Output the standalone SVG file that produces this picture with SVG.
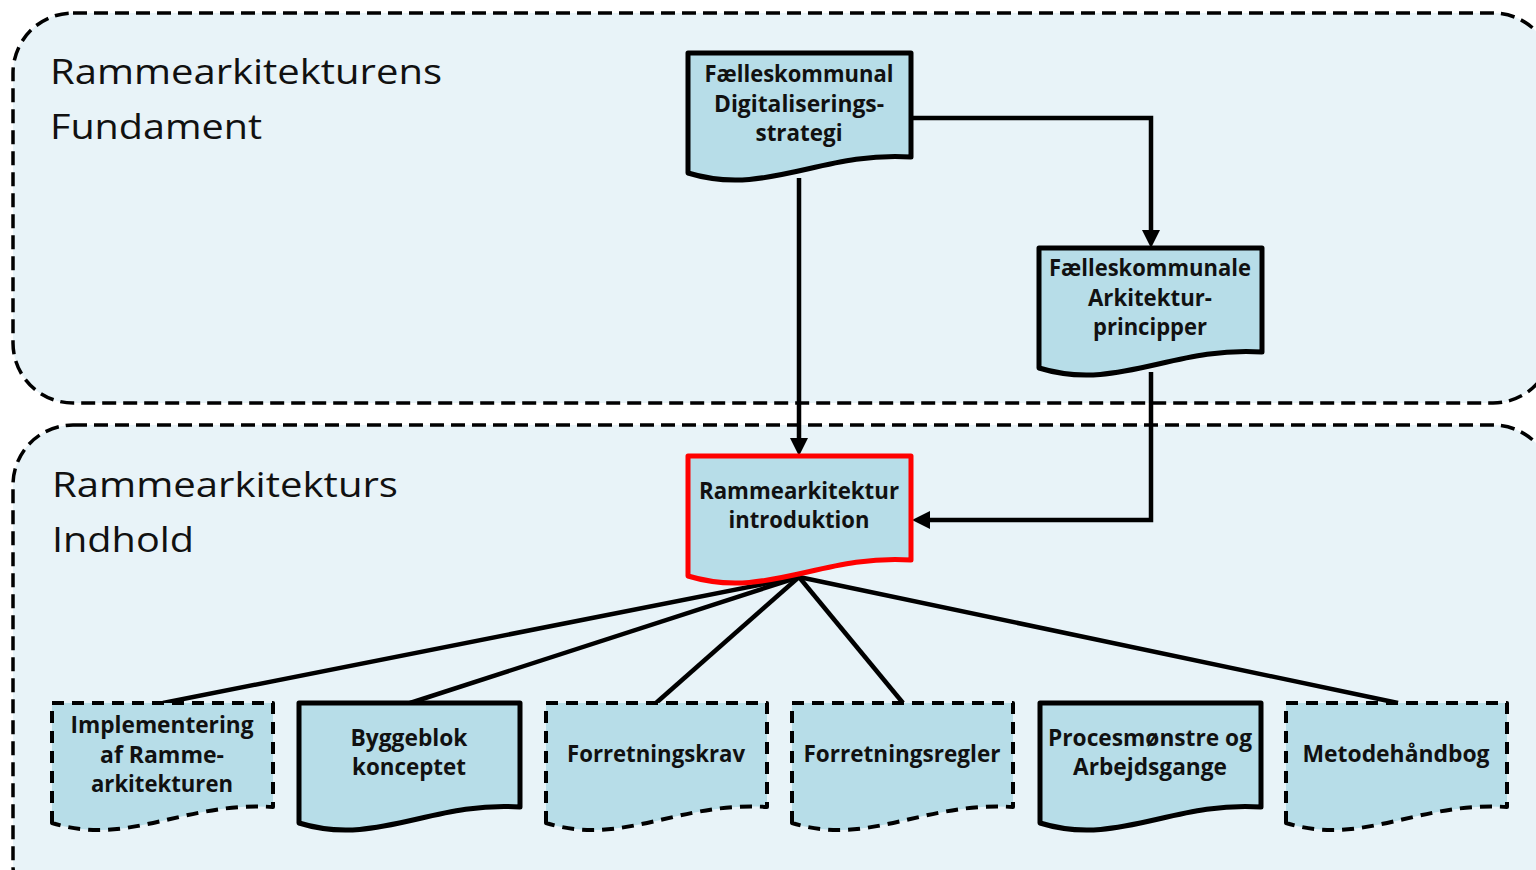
<svg xmlns="http://www.w3.org/2000/svg" width="1536" height="870" viewBox="0 0 1536 870">
<defs>
<style>
.panel{fill:#e8f3f8;stroke:#000;stroke-width:3.5;stroke-dasharray:14 7}
.doc{fill:#b7dde8;stroke:#000;stroke-width:5;stroke-linejoin:round}
.dash{stroke-width:4;stroke-dasharray:12 8}
.red{stroke:#ff0000}
.t{font-family:"Open Sans","Liberation Sans",sans-serif;font-weight:bold;font-size:23px;fill:#111;text-anchor:middle}
.title{font-family:"Open Sans","Liberation Sans",sans-serif;font-size:35px;fill:#111}
.con{fill:none;stroke:#000;stroke-width:4.5}
</style>
<marker id="ah" viewBox="0 0 18 18" refX="9" refY="9" markerWidth="18" markerHeight="18" markerUnits="userSpaceOnUse" orient="auto">
<path d="M0,0 L18,9 L0,18 z" fill="#000"/>
</marker>
</defs>
<rect width="1536" height="870" fill="#fff"/>
<g id="panel-fundament">
<rect class="panel" x="13" y="13" width="1540" height="390" rx="60" ry="60"/>
<text class="title" x="50" y="84" textLength="392" lengthAdjust="spacingAndGlyphs">Rammearkitekturens</text>
<text class="title" x="50" y="139" textLength="212" lengthAdjust="spacingAndGlyphs">Fundament</text>
</g>
<g id="panel-indhold">
<rect class="panel" x="13" y="425" width="1540" height="500" rx="60" ry="60"/>
<text class="title" x="52" y="497" textLength="346" lengthAdjust="spacingAndGlyphs">Rammearkitekturs</text>
<text class="title" x="52" y="552" textLength="142" lengthAdjust="spacingAndGlyphs">Indhold</text>
</g>
<g id="connectors">
<path class="con" d="M799,178 V447" marker-end="url(#ah)"/>
<path class="con" d="M911,118 H1151 V239" marker-end="url(#ah)"/>
<path class="con" d="M1151,372 V520 H921" marker-end="url(#ah)"/>
<path class="con" d="M799,577 L163,703"/>
<path class="con" d="M799,577 L410,703"/>
<path class="con" d="M799,577 L656,703"/>
<path class="con" d="M799,577 L903,703"/>
<path class="con" d="M799,577 L1398,703"/>
</g>
<g id="node-strategi">
<path class="doc" d="M688,173 V53 H911 V157 C822,151 766,197 688,173 Z"/>
<text class="t" x="799" y="82" textLength="189" lengthAdjust="spacingAndGlyphs">Fælleskommunal</text>
<text class="t" x="799" y="112" textLength="170" lengthAdjust="spacingAndGlyphs">Digitaliserings-</text>
<text class="t" x="799" y="141" textLength="87" lengthAdjust="spacingAndGlyphs">strategi</text>
</g>
<g id="node-principper">
<path class="doc" d="M1039,368 V248 H1262 V352 C1173,346 1117,392 1039,368 Z"/>
<text class="t" x="1150" y="276" textLength="202" lengthAdjust="spacingAndGlyphs">Fælleskommunale</text>
<text class="t" x="1150" y="306" textLength="124" lengthAdjust="spacingAndGlyphs">Arkitektur-</text>
<text class="t" x="1150" y="335" textLength="114" lengthAdjust="spacingAndGlyphs">principper</text>
</g>
<g id="node-introduktion">
<path class="doc red" d="M688,576 V456 H911 V560 C822,554 766,600 688,576 Z"/>
<text class="t" x="799" y="499" textLength="200" lengthAdjust="spacingAndGlyphs">Rammearkitektur</text>
<text class="t" x="799" y="528" textLength="141" lengthAdjust="spacingAndGlyphs">introduktion</text>
</g>
<g id="node-implementering">
<path class="doc dash" d="M52,823 V703 H273 V807 C185,801 129,847 52,823 Z"/>
<text class="t" x="162" y="733" textLength="183" lengthAdjust="spacingAndGlyphs">Implementering</text>
<text class="t" x="162" y="763" textLength="124" lengthAdjust="spacingAndGlyphs">af Ramme-</text>
<text class="t" x="162" y="792" textLength="142" lengthAdjust="spacingAndGlyphs">arkitekturen</text>
</g>
<g id="node-byggeblok">
<path class="doc" d="M299,823 V703 H520 V807 C432,801 376,847 299,823 Z"/>
<text class="t" x="409" y="746" textLength="117" lengthAdjust="spacingAndGlyphs">Byggeblok</text>
<text class="t" x="409" y="775" textLength="114" lengthAdjust="spacingAndGlyphs">konceptet</text>
</g>
<g id="node-forretningskrav">
<path class="doc dash" d="M546,823 V703 H767 V807 C679,801 623,847 546,823 Z"/>
<text class="t" x="656" y="762" textLength="178" lengthAdjust="spacingAndGlyphs">Forretningskrav</text>
</g>
<g id="node-forretningsregler">
<path class="doc dash" d="M792,823 V703 H1013 V807 C925,801 869,847 792,823 Z"/>
<text class="t" x="902" y="762" textLength="197" lengthAdjust="spacingAndGlyphs">Forretningsregler</text>
</g>
<g id="node-procesmoenstre">
<path class="doc" d="M1040,823 V703 H1261 V807 C1173,801 1117,847 1040,823 Z"/>
<text class="t" x="1150" y="746" textLength="204" lengthAdjust="spacingAndGlyphs">Procesmønstre og</text>
<text class="t" x="1150" y="775" textLength="154" lengthAdjust="spacingAndGlyphs">Arbejdsgange</text>
</g>
<g id="node-metodehaandbog">
<path class="doc dash" d="M1286,823 V703 H1507 V807 C1419,801 1363,847 1286,823 Z"/>
<text class="t" x="1396" y="762" textLength="187" lengthAdjust="spacingAndGlyphs">Metodehåndbog</text>
</g>
</svg>
